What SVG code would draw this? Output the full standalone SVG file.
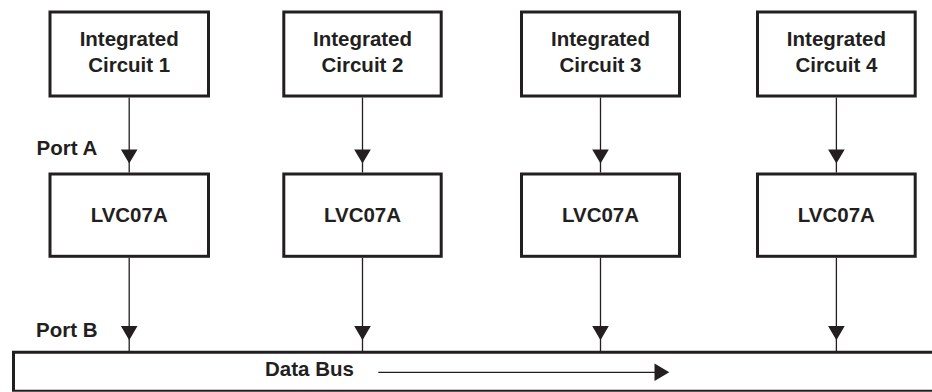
<svg xmlns="http://www.w3.org/2000/svg" width="932" height="392" viewBox="0 0 932 392">
<style>
.box{fill:#fff;stroke:#231f20;stroke-width:3}
.lbl{font-family:"Liberation Sans",Arial,sans-serif;font-weight:bold;font-size:20.5px;fill:#231f20}
.c{text-anchor:middle}
.wire{stroke:#231f20;stroke-width:1.3;fill:none}
.head{fill:#231f20}
</style>
<rect width="932" height="392" fill="#fff"/>
<g id="bus">
<path d="M13.5 391 V352.3 H934" fill="none" stroke="#231f20" stroke-width="3"/>
<path d="M12 390.8 H934" stroke="#231f20" stroke-width="2"/>
<text class="lbl" x="265" y="376">Data Bus</text>
</g>
<g id="ic1"><rect class="box" x="50" y="12" width="158.5" height="84"/><text class="lbl c" x="129.2" y="46">Integrated</text><text class="lbl c" x="129.2" y="71.7">Circuit 1</text></g>
<g id="ic2"><rect class="box" x="283.8" y="12" width="157.4" height="84"/><text class="lbl c" x="362.5" y="46">Integrated</text><text class="lbl c" x="362.5" y="71.7">Circuit 2</text></g>
<g id="ic3"><rect class="box" x="521.5" y="12" width="158" height="84"/><text class="lbl c" x="600.5" y="46">Integrated</text><text class="lbl c" x="600.5" y="71.7">Circuit 3</text></g>
<g id="ic4"><rect class="box" x="757.5" y="12" width="157.7" height="84"/><text class="lbl c" x="836.4" y="46">Integrated</text><text class="lbl c" x="836.4" y="71.7">Circuit 4</text></g>
<g id="lvc1"><rect class="box" x="50" y="174" width="158.5" height="82.3"/><text class="lbl c" x="129.2" y="221.6">LVC07A</text></g>
<g id="lvc2"><rect class="box" x="283.8" y="174" width="157.4" height="82.3"/><text class="lbl c" x="362.5" y="221.6">LVC07A</text></g>
<g id="lvc3"><rect class="box" x="521.5" y="174" width="158" height="82.3"/><text class="lbl c" x="600.5" y="221.6">LVC07A</text></g>
<g id="lvc4"><rect class="box" x="757.5" y="174" width="157.7" height="82.3"/><text class="lbl c" x="836.4" y="221.6">LVC07A</text></g>
<g id="labels">
<text class="lbl" x="36.5" y="155">Port A</text>
<text class="lbl" x="36" y="336.7">Port B</text>
</g>
<g id="connectors">
<path class="wire" d="M129.2 97.5 V172.5 M129.2 257.8 V351 M362.5 97.5 V172.5 M362.5 257.8 V351 M600.5 97.5 V172.5 M600.5 257.8 V351 M836.4 97.5 V172.5 M836.4 257.8 V351 M378.3 372.3 H656"/>
<path class="head" d="M120.9 149.4 H137.5 L129.2 163.5 Z M354.2 149.4 H370.8 L362.5 163.5 Z M592.2 149.4 H608.8 L600.5 163.5 Z M828.1 149.4 H844.7 L836.4 163.5 Z"/>
<path class="head" d="M120.9 326 H137.5 L129.2 340.2 Z M354.2 326 H370.8 L362.5 340.2 Z M592.2 326 H608.8 L600.5 340.2 Z M828.1 326 H844.7 L836.4 340.2 Z"/>
<path class="head" d="M654.5 363.5 L669.3 372.3 L654.5 381 Z"/>
</g>
</svg>
